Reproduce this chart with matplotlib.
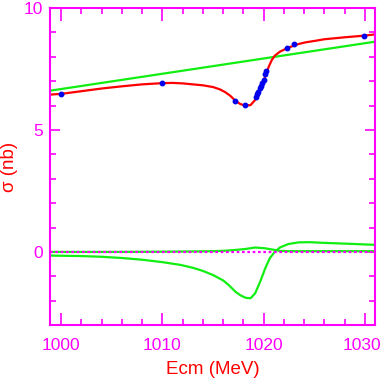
"""Phi-region cross section: data, fit and interference components."""

import matplotlib
matplotlib.use("Agg")
import matplotlib.pyplot as plt
import matplotlib.transforms as mtransforms
from matplotlib.ticker import MultipleLocator

# measured points
ecm_pts = [1000.0, 1010.0, 1017.15, 1018.13, 1019.25, 1019.35, 1019.45, 1019.6,
           1019.75, 1019.85, 1020.0, 1020.15, 1020.25, 1022.3, 1022.97, 1029.94]
sig_pts = [6.46, 6.94, 6.20, 6.01, 6.37, 6.46, 6.57, 6.71,
           6.80, 6.94, 7.05, 7.30, 7.40, 8.35, 8.54, 8.85]
sig_err = [0.06] * len(sig_pts)

# fit curve (red)
ecm_fit = [998.9, 1000, 1002, 1004, 1006, 1008, 1010, 1011, 1012, 1013, 1014,
           1015, 1015.7, 1016.2, 1016.7, 1017.2, 1017.7, 1018.2, 1018.7,
           1019.15, 1019.65, 1020.15, 1020.5, 1020.8, 1021.1, 1021.6, 1022.4,
           1023.4, 1024.1, 1025, 1026, 1028, 1030, 1031]
sig_fit = [6.45, 6.48, 6.59, 6.70, 6.79, 6.87, 6.92, 6.93, 6.91, 6.87, 6.83,
           6.76, 6.66, 6.55, 6.40, 6.20, 6.06, 6.00, 6.02,
           6.23, 6.66, 7.19, 7.60, 7.87, 8.05, 8.21, 8.37,
           8.52, 8.59, 8.65, 8.72, 8.80, 8.87, 8.92]

# non-resonant background (green, straight)
ecm_bg = [998.9, 1031]
sig_bg = [6.61, 8.62]

# interference term (green, big dip)
ecm_int = [998.9, 1002, 1004, 1006, 1008, 1010, 1011.75, 1013, 1014, 1015,
           1016, 1016.6, 1017.2, 1017.7, 1018.2, 1018.7, 1019.15, 1019.65,
           1020.15, 1020.6, 1021.1, 1021.6, 1022.4, 1023.4, 1024.5, 1026,
           1028, 1031]
sig_int = [-0.15, -0.17, -0.20, -0.25, -0.32, -0.42, -0.53, -0.65, -0.78, -0.95,
           -1.17, -1.38, -1.63, -1.78, -1.88, -1.90, -1.70, -1.22,
           -0.67, -0.26, 0.01, 0.18, 0.32, 0.39, 0.40, 0.37,
           0.34, 0.29]

# resonant term (green, small bump)
ecm_res = [998.9, 1005, 1010, 1013, 1015, 1016.2, 1017.2, 1018.2, 1019.15,
           1020.1, 1021.1, 1021.6, 1022.5, 1024, 1027, 1031]
sig_res = [0.0, 0.0, 0.01, 0.02, 0.03, 0.05, 0.08, 0.12, 0.18,
           0.15, 0.08, 0.04, 0.03, 0.03, 0.03, 0.03]

MAG = "#ff00ff"
RED = "#ff0000"
GRN = "#11ee11"
BLU = "#0000ee"

plt.rcParams["font.family"] = ["Liberation Sans", "DejaVu Sans"]

fig = plt.figure(figsize=(3.82, 3.82), dpi=100)
ax = fig.add_axes([0.131, 0.149, 0.851, 0.830])

ax.plot(ecm_bg, sig_bg, color=GRN, lw=1.6)
ax.plot(ecm_int, sig_int, color=GRN, lw=1.6)
ax.plot(ecm_res, sig_res, color=GRN, lw=1.6)
ax.axhline(0, color=MAG, lw=1.6, ls=(0, (1.2, 1.2)), zorder=4)
ax.plot(ecm_fit, sig_fit, color=RED, lw=1.6)
ax.errorbar(ecm_pts, sig_pts, yerr=sig_err, fmt="o", ms=3.2, color=BLU,
            ecolor=BLU, elinewidth=1.2, capsize=0, zorder=5)

ax.set_xlim(998.9, 1031.0)
ax.set_ylim(-3, 10)
ax.xaxis.set_major_locator(MultipleLocator(10))
ax.xaxis.set_minor_locator(MultipleLocator(2))
ax.yaxis.set_major_locator(MultipleLocator(5))
ax.yaxis.set_minor_locator(MultipleLocator(1))

for s in ax.spines.values():
    s.set_color(MAG)
    s.set_linewidth(1.5)
ax.tick_params(which="both", direction="in", top=True, right=True,
               color=MAG, labelcolor=MAG, labelsize=12.5, width=1.2)
ax.tick_params(axis="x", which="major", length=9, pad=9)
ax.tick_params(axis="x", which="minor", length=4)
ax.tick_params(axis="y", which="major", length=7, pad=5)
ax.tick_params(axis="y", which="minor", length=4)

ax.set_xlabel("Ecm (MeV)", color=RED, fontsize=13.5)
ax.set_ylabel("σ (nb)", color=RED, fontsize=13.5)
ax.xaxis.set_label_coords(0.5, -0.112)
ax.yaxis.set_label_coords(-0.10, 0.5)

# last x label sits on the figure edge; nudge it inside
fig.canvas.draw()
for lab in ax.get_xticklabels():
    if lab.get_text() == "1030":
        lab.set_transform(lab.get_transform() +
                          mtransforms.ScaledTranslation(-3 / 100, 0, fig.dpi_scale_trans))

fig.savefig("out.png", dpi=100)
